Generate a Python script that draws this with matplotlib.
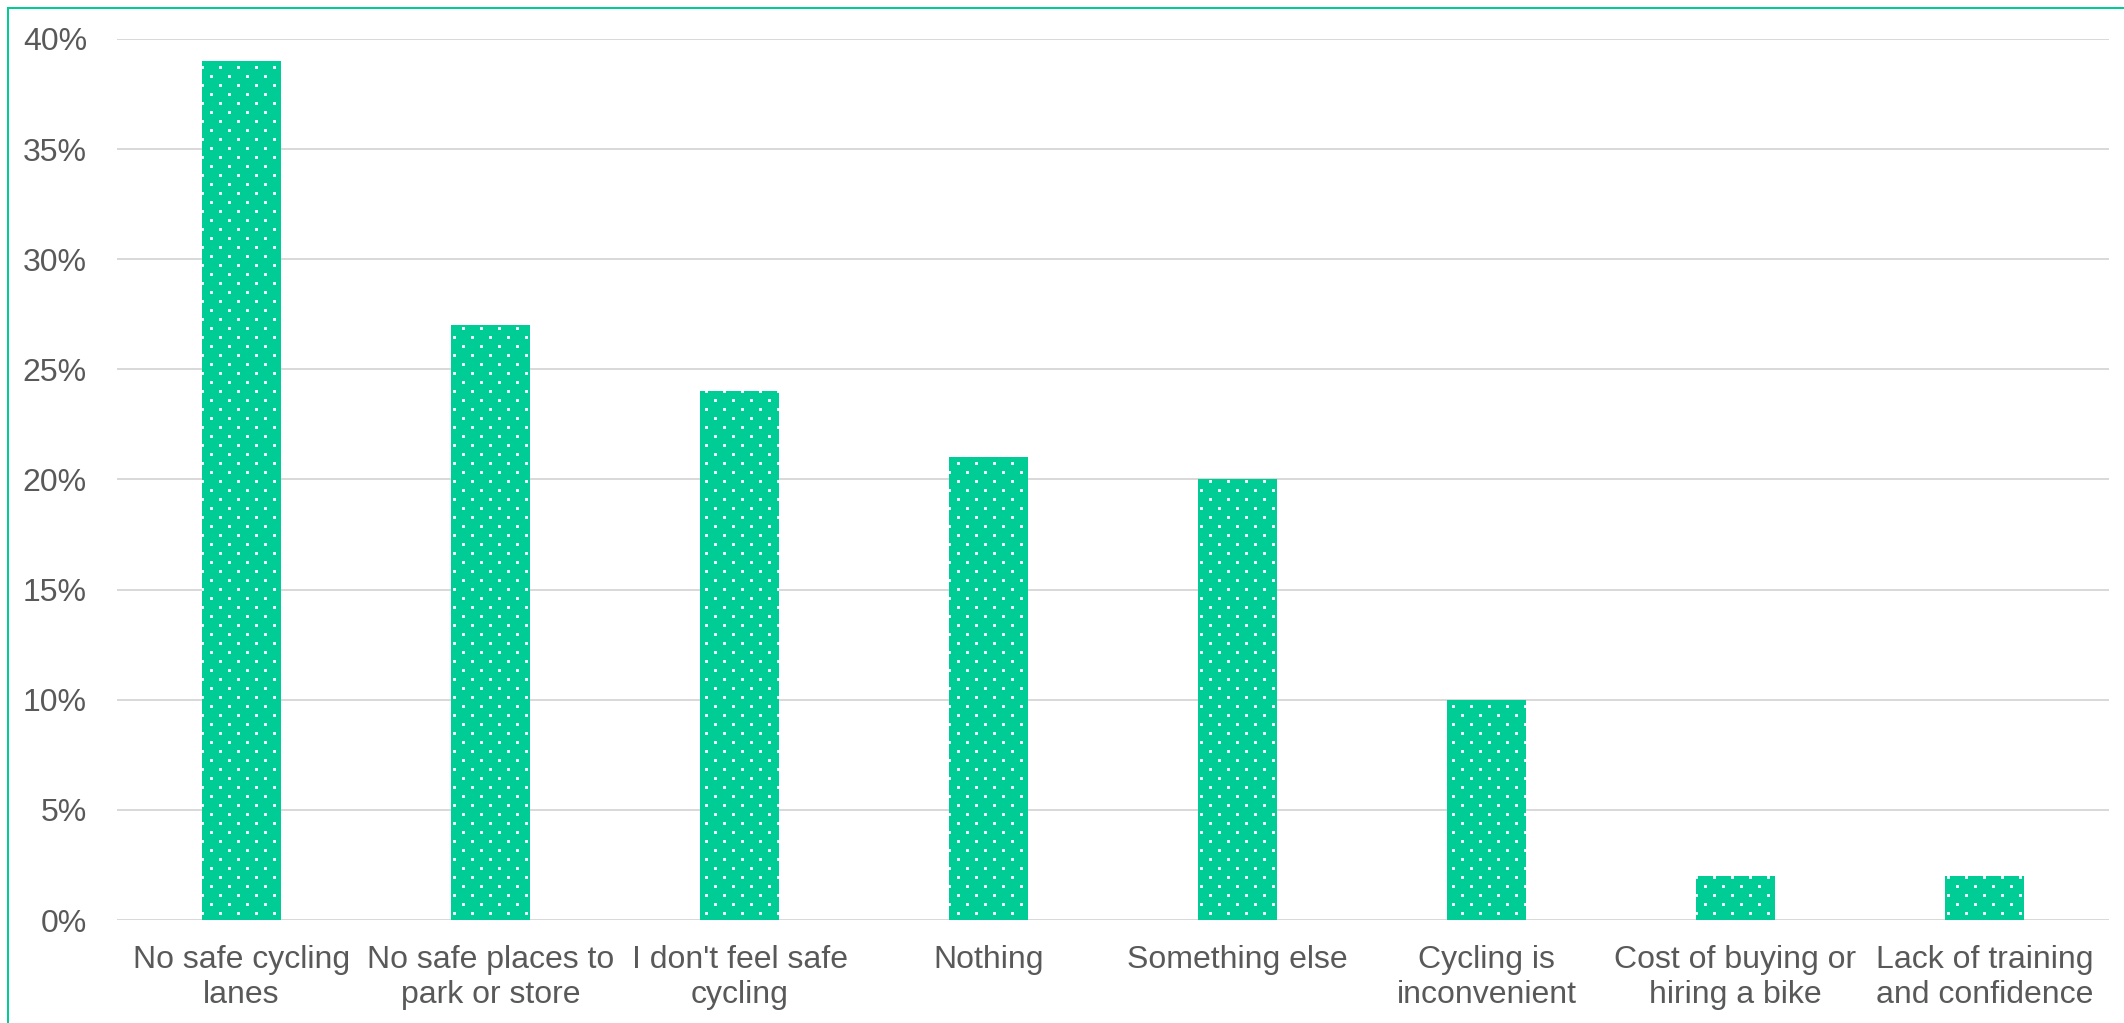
import numpy as np
import matplotlib
matplotlib.use("Agg")
import matplotlib.pyplot as plt
import matplotlib.hatch as mhatch
from matplotlib.path import Path
from matplotlib.patches import Rectangle
from matplotlib.ticker import FuncFormatter

categories = [
    "No safe cycling\nlanes",
    "No safe places to\npark or store",
    "I don't feel safe\ncycling",
    "Nothing",
    "Something else",
    "Cycling is\ninconvenient",
    "Cost of buying or\nhiring a bike",
    "Lack of training\nand confidence",
]
values = [39, 27, 24, 21, 20, 10, 2, 2]
y_ticks = [0, 5, 10, 15, 20, 25, 30, 35, 40]

GREEN = "#00CC96"
GREY_TEXT = "#595959"
GRID = "#D9D9D9"
DPI = 144


class StaggeredDots(mhatch.HatchPatternBase):
    """Office-style 'dotted' fill: small square dots on a staggered grid ('.')."""

    def __init__(self, hatch, density):
        self.n = hatch.count('.') * 8
        self.num_vertices = 2 * self.n * self.n * 5

    def set_vertices_and_codes(self, vertices, codes):
        n = self.n
        h = 1.4 / DPI
        idx = np.arange(n)
        gx, gy = np.meshgrid(idx, idx)
        cx = np.concatenate([(gx.ravel() + 0.25), (gx.ravel() + 0.75)]) / n
        cy = np.concatenate([(gy.ravel() + 0.25), (gy.ravel() + 0.75)]) / n
        sq = np.array([[-h, -h], [h, -h], [h, h], [-h, h], [-h, -h]])
        pts = sq[None, :, :] + np.stack([cx, cy], axis=1)[:, None, :]
        vertices[:] = pts.reshape(-1, 2)
        c = np.array([Path.MOVETO, Path.LINETO, Path.LINETO, Path.LINETO,
                      Path.CLOSEPOLY], dtype=Path.code_type)
        codes[:] = np.tile(c, len(cx))


mhatch._hatch_types[:] = [StaggeredDots if t is mhatch.SmallFilledCircles else t
                          for t in mhatch._hatch_types]

plt.rcParams["font.family"] = ["Liberation Sans", "DejaVu Sans"]
plt.rcParams["hatch.linewidth"] = 0.1

fig = plt.figure(figsize=(2124 / DPI, 1023 / DPI), dpi=DPI)
ax = fig.add_axes([117 / 2124, 103 / 1023, 1992 / 2124, 881 / 1023])

x = range(len(categories))
ax.bar(x, values, width=0.32, color=GREEN, edgecolor="white",
       linewidth=0, hatch=".", zorder=3)

ax.set_xlim(-0.5, len(categories) - 0.5)
ax.set_ylim(0, 40)
ax.set_yticks(y_ticks)
ax.yaxis.set_major_formatter(FuncFormatter(lambda v, _: f"{v:.0f}%"))
ax.set_xticks(list(x))
ax.set_xticklabels(categories, linespacing=1.2)

ax.grid(axis="y", color=GRID, linewidth=1.0, zorder=0)
for s in ax.spines.values():
    s.set_visible(False)
ax.tick_params(axis="both", length=0, labelsize=16, labelcolor=GREY_TEXT)
ax.tick_params(axis="y", pad=15)
ax.tick_params(axis="x", pad=12.5)

# outer chart frame (runs off the right and bottom edges)
fig.patches.append(Rectangle((7.5 / 2124, -0.05), 1.1, (1023 - 7.5) / 1023 + 0.05,
                             transform=fig.transFigure, fill=False,
                             edgecolor=GREEN, linewidth=1.0, clip_on=False))

fig.savefig("out.png", dpi=DPI)
